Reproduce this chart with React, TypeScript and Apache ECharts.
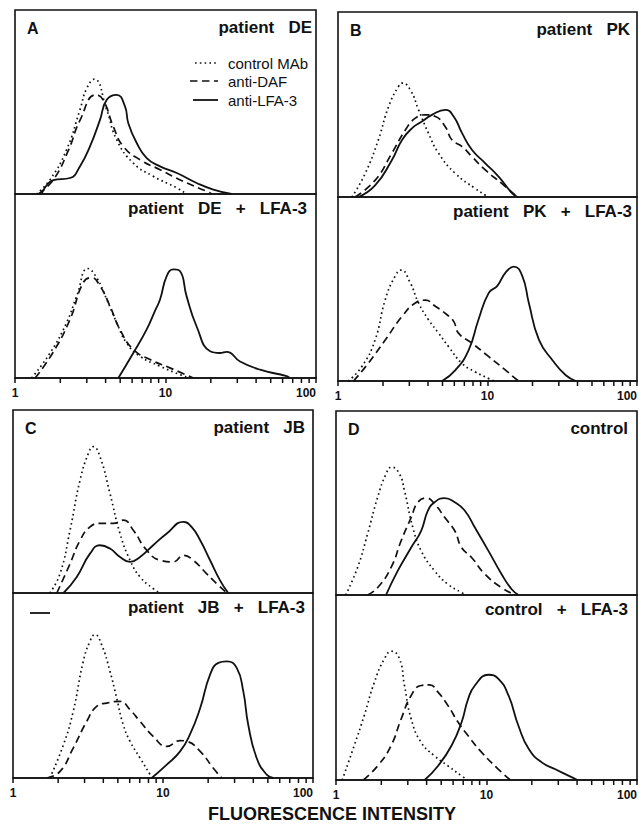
import React, { useEffect, useRef } from "react";
import * as echarts from "echarts";

// ---------- DATA (fluorescence intensity, relative cell number in % of panel height) ----------
const seriesNames = ["control MAb", "anti-DAF", "anti-LFA-3"];
const xMinorTickValues = [2, 3, 4, 5, 6, 7, 8, 9, 20, 30, 40, 50, 60, 70, 80, 90];

const panelTitles = [
  "patient   DE", "patient   DE   +   LFA-3",
  "patient   PK", "patient   PK   +   LFA-3",
  "patient   JB", "patient   JB   +   LFA-3",
  "control", "control   +   LFA-3",
];
const panelLetters = ["A", "B", "C", "D"];

// Panel A, patient DE
const aTopControl = [[1.39,0],[1.71,7.8],[2.2,24],[2.7,45.7],[3.0,57.5],[3.37,62.4],[4.07,45.7],[4.74,29.5],[6.11,16.8],[8.3,9.6],[11.9,3.3],[13.8,0]];
const aTopDAF = [[1.43,0],[1.8,7.8],[2.27,24],[2.7,40],[3.45,53.9],[3.86,51],[4.5,36.7],[5.24,25.9],[6.77,18.6],[9.2,13.2],[13.1,6.9],[18.8,1.4],[20.3,0]];
const aTopLFA = [[1.5,0],[1.8,7.5],[2.32,8.7],[2.7,15],[3.15,25.9],[3.67,40.3],[4.07,51.2],[4.74,53.9],[5.38,47.6],[5.66,38.5],[6.44,27.7],[7.5,19.5],[9.2,15],[11.9,11.4],[16.1,6],[20.8,2.4],[27.5,0]];
const aBotControl = [[1.29,0],[1.71,13.6],[2.2,30],[2.57,44.5],[3.05,59.5],[3.49,54.5],[4.07,42.7],[4.74,30],[5.52,19],[6.77,11.8],[9.2,6.4],[12.5,1.8],[14.5,0]];
const aBotDAF = [[1.36,0],[1.78,13.6],[2.32,31.8],[2.84,51.8],[3.23,54.5],[3.67,50],[4.28,39],[4.98,26.4],[6.11,15.5],[7.9,10],[10.7,5.5],[15.3,0]];
const aBotLFA = [[4.86,0],[6.11,13.6],[7.5,26.4],[8.5,36.4],[9.2,42.7],[10.2,55.5],[11.3,59],[12.5,58],[13.8,44.5],[16.1,28],[19.8,14.5],[23,13.6],[25.5,14.2],[31.3,9],[42.5,4.5],[63.8,1],[66.8,0]];

// Panel B, patient PK
const bTopControl = [[1.24,0],[1.52,12.7],[1.86,30.8],[2.18,48.9],[2.54,59.8],[2.7,61.6],[3.04,58],[3.46,47.1],[4.03,34.4],[4.71,23.6],[6.1,12.7],[8.3,4.5],[9.7,0.9],[10.1,0]];
const bTopDAF = [[1.3,0],[1.77,9],[2.29,23.6],[2.82,36.2],[3.29,42.6],[3.84,44.4],[4.48,43.5],[5.22,38],[5.79,30.8],[6.77,27.2],[7.89,21.7],[9.7,14.5],[12.5,7.2],[15.4,0.9],[15.9,0]];
const bTopLFA = [[1.37,0],[1.77,6.3],[2.29,19.9],[2.68,30.8],[3.12,37.1],[3.64,40.8],[4.25,44.4],[5.22,47.1],[5.94,43.5],[6.77,34.4],[7.89,25.4],[9.7,18.1],[11.9,10.9],[14.7,1.8],[15.9,0]];
const bBotControl = [[1.17,0],[1.44,7.7],[1.77,22.3],[2.07,44.2],[2.41,57],[2.65,60.3],[3.04,53.4],[3.46,42.4],[4.03,33.3],[4.71,26],[5.5,18.6],[6.77,9.5],[8.3,4.9],[10.2,1.3],[11.1,0]];
const bBotDAF = [[1.27,0],[1.59,9.5],[2.07,22.3],[2.68,35.1],[3.29,42.4],[3.84,43.9],[4.48,40.6],[5.36,36],[5.94,32.4],[6.4,26],[7.89,20.5],[10.2,13.2],[13.2,5.9],[15.9,0.4],[16.3,0]];
const bBotLFA = [[4.97,0],[6.1,5.9],[7.48,16.8],[8.7,33.3],[10.2,47.9],[11.6,51.6],[13.2,58.9],[15,62.2],[17.1,57],[18.9,42.4],[22.1,22.3],[27.2,11.3],[33.4,3.1],[39,0]];

// Panel C, patient JB
const cTopControl = [[1.76,0],[2.06,10.6],[2.4,34.3],[2.8,61.7],[3.18,76.3],[3.43,80],[3.8,74.5],[4.43,54.4],[5.17,32.5],[6.03,17.9],[7.03,8.8],[8.6,2.4],[9.55,0]];
const cTopDAF = [[1.96,0],[2.4,16],[2.8,28.8],[3.26,36.1],[3.8,38],[4.66,38],[5.43,39.8],[6.34,34.3],[7.78,23.4],[9.55,17.9],[11.7,17],[13.7,20.6],[15.9,17.9],[19.5,10.6],[22.8,5.1],[26.6,0]];
const cTopLFA = [[2.17,0],[2.66,8.8],[3.26,21.5],[3.8,26.1],[4.43,24.3],[5.17,19.7],[6.03,17],[7.03,19.7],[8.6,26.1],[10.6,32.5],[13.7,38.9],[15.5,36.1],[17.7,28.8],[20.6,17.9],[24,6.9],[27.2,0]];
const cBotControl = [[1.76,0],[2.17,18],[2.52,36],[2.94,63],[3.26,73.9],[3.52,77.5],[3.9,72],[4.43,57.7],[4.91,43.2],[5.43,28.8],[6.03,19.8],[7.03,10.8],[8.2,1.8],[8.4,0]];
const cBotDAF = [[1.68,0],[2.06,3.6],[2.52,16.2],[3.1,30.6],[3.61,38.7],[4.21,40.5],[5.17,41.4],[6.03,36.9],[7.03,30.6],[8.6,22.5],[10.6,17.1],[13,20.2],[14.4,19.8],[17.7,14.4],[21.6,5.4],[24.6,0]];
const cBotLFA = [[8.4,0],[10.6,7.2],[13,14.4],[15.1,23.4],[17.7,37.8],[20.6,55.9],[23.4,62.2],[26.6,63],[31,59.5],[34.3,46.8],[37,28.8],[42.1,10.8],[49.1,1.8],[54.4,0]];

// Panel D, control
const dTopControl = [[1.16,0],[1.39,14.9],[1.62,33.1],[1.89,53.1],[2.15,65.8],[2.34,69.5],[2.64,65.8],[2.85,56.7],[3.24,36.7],[3.68,24],[4.52,13.1],[5.55,5.8],[6.83,1.3],[7.3,0]];
const dTopDAF = [[1.62,0],[1.89,4],[2.32,14.9],[2.71,29.5],[3.16,42.2],[3.5,50.4],[3.98,52.7],[4.52,49.5],[5.27,42.2],[6.15,34.9],[6.83,25.8],[7.96,20.4],[9.77,11.3],[12.6,4],[15.5,0]];
const dTopLFA = [[2.15,0],[2.57,13.1],[3.16,25.8],[3.68,34.9],[4.08,45.8],[4.52,50.4],[5.27,52.7],[6.15,50.4],[7.18,45.8],[8.37,36.7],[10.3,24],[12.6,11.3],[14.7,3.1],[16.3,0]];
const dBotControl = [[1.1,0],[1.32,18.5],[1.54,34.8],[1.8,52.9],[2.1,65.6],[2.34,69.6],[2.64,65.6],[2.85,51.1],[3.16,33],[3.68,20.3],[4.52,13],[5.55,7.6],[6.83,2.2],[7.5,0]];
const dBotDAF = [[1.52,0],[1.89,7.6],[2.32,18.5],[2.71,33],[3.16,45.7],[3.68,51.1],[4.19,51.4],[4.76,47.5],[5.55,40.2],[6.48,31.2],[7.55,23.9],[9.29,14.9],[12,5.8],[14.4,0]];
const dBotLFA = [[3.88,0],[4.76,7.6],[5.85,18.5],[6.83,31.2],[7.55,43.8],[8.37,51.1],[10.3,56.9],[12,54.7],[14,45.7],[16.3,29.3],[19.1,16.7],[23.4,9.4],[28.7,5.8],[35.3,2.2],[40.2,0]];

const subPanelData = [
  [aTopControl, aTopDAF, aTopLFA],
  [aBotControl, aBotDAF, aBotLFA],
  [bTopControl, bTopDAF, bTopLFA],
  [bBotControl, bBotDAF, bBotLFA],
  [cTopControl, cTopDAF, cTopLFA],
  [cBotControl, cBotDAF, cBotLFA],
  [dTopControl, dTopDAF, dTopLFA],
  [dBotControl, dBotDAF, dBotLFA],
];

// ---------- LAYOUT ----------
const INK = "#111";
const FONT = "'Liberation Sans', Arial, Helvetica, sans-serif";
// left, width, top, midline, bottom for each of the four panels
const panelBoxes = [
  { l: 15, w: 301, t: 10, m: 194, b: 378 },
  { l: 338, w: 299, t: 12, m: 197, b: 381 },
  { l: 13, w: 300, t: 410, m: 593, b: 778 },
  { l: 336, w: 301, t: 411, m: 595, b: 780 },
];
// distance of each sub-panel title's right edge from the panel's right border
const titleInset = [4, 9, 7, 5, 8, 8, 9, 9];
const lineStyles = [
  { type: [1.6, 3.2], width: 1.7 },
  { type: [7.5, 4.5], width: 1.7 },
  { type: "solid", width: 1.8 },
];

function buildOption() {
  const grid: any[] = [];
  const xAxis: any[] = [];
  const yAxis: any[] = [];
  const series: any[] = [];
  const graphic: any[] = [];

  panelBoxes.forEach((p, pi) => {
    [0, 1].forEach((half) => {
      const gi = pi * 2 + half;
      const top = half === 0 ? p.t : p.m;
      const height = half === 0 ? p.m - p.t : p.b - p.m;
      const isBottom = half === 1;
      grid.push({
        left: p.l, top, width: p.w, height,
        show: true, borderColor: INK, borderWidth: 1.6,
        backgroundColor: "transparent",
        containLabel: false, outerBoundsMode: "none",
      });
      xAxis.push({
        type: "log", logBase: 10, min: 1, max: 100, gridIndex: gi,
        show: isBottom,
        axisLine: { show: true, onZero: false, lineStyle: { color: INK, width: 1.6 } },
        axisTick: { show: true, inside: false, length: 5, lineStyle: { color: INK, width: 1.5 } },
        minorTick: { show: false },
        splitLine: { show: false },
        axisLabel: {
          show: true, margin: 9, fontSize: 12,
          color: INK, fontFamily: FONT, fontWeight: "bold",
          showMinLabel: true, showMaxLabel: true, hideOverlap: false,
          alignMaxLabel: "right",
          formatter: (v: number) => String(Math.round(v)),
        },
      });
      yAxis.push({ type: "value", min: 0, max: 100, gridIndex: gi, show: false, splitLine: { show: false } });
      subPanelData[gi].forEach((d, si) => {
        series.push({
          type: "line", name: seriesNames[si], xAxisIndex: gi, yAxisIndex: gi,
          data: d, symbol: "none", showSymbol: false, smooth: 0.5,
          silent: true, clip: true,
          lineStyle: { color: INK, width: lineStyles[si].width, type: lineStyles[si].type, cap: "butt", join: "round" },
        });
      });
      if (isBottom) {
        // minor tick marks (2..9, 20..90) hanging below the axis line
        series.push({
          type: "scatter", name: "minor ticks", xAxisIndex: gi, yAxisIndex: gi,
          data: xMinorTickValues.map((v) => [v, 0]),
          symbol: "rect", symbolSize: [1.5, 5], symbolOffset: [0, 2.5],
          itemStyle: { color: INK, opacity: 1 }, silent: true, clip: false, z: 10,
          emphasis: { disabled: true },
        });
      }
      // sub-panel title
      graphic.push({
        type: "text", silent: true,
        style: {
          text: panelTitles[gi], x: p.l + p.w - titleInset[gi], y: top + (half === 0 ? 17 : 14),
          align: "right", textAlign: "right", verticalAlign: "middle", textVerticalAlign: "middle",
          font: `bold 17px ${FONT}`, fill: INK,
        },
      });
    });
    graphic.push({
      type: "text", silent: true,
      style: {
        text: panelLetters[pi], x: p.l + 12, y: p.t + 18,
        align: "left", textAlign: "left", verticalAlign: "middle", textVerticalAlign: "middle",
        font: `bold 16px ${FONT}`, fill: INK,
      },
    });
  });

  // legend in panel A
  const legY = [63, 81, 100];
  const legX0 = [195, 190, 193];
  seriesNames.forEach((n, i) => {
    graphic.push({
      type: "line", silent: true,
      shape: { x1: legX0[i], y1: legY[i], x2: 218, y2: legY[i] },
      style: { stroke: INK, lineWidth: lineStyles[i].width, lineDash: Array.isArray(lineStyles[i].type) ? lineStyles[i].type : null },
    });
    graphic.push({
      type: "text", silent: true,
      style: {
        text: n, x: 228, y: legY[i],
        align: "left", textAlign: "left", verticalAlign: "middle", textVerticalAlign: "middle",
        font: `15px ${FONT}`, fill: INK,
      },
    });
  });

  // stray mark in panel C lower half
  graphic.push({
    type: "line", silent: true,
    shape: { x1: 30, y1: 613, x2: 50, y2: 613 },
    style: { stroke: INK, lineWidth: 1.8 },
  });

  // common x-axis title
  graphic.push({
    type: "text", silent: true,
    style: {
      text: "FLUORESCENCE INTENSITY", x: 332, y: 814,
      align: "center", textAlign: "center", verticalAlign: "middle", textVerticalAlign: "middle",
      font: `bold 18px ${FONT}`, fill: INK,
    },
  });

  return {
    animation: false,
    backgroundColor: "#fff",
    grid, xAxis, yAxis, series, graphic,
    tooltip: { show: false },
  };
}

export default function App() {
  const ref = useRef<HTMLDivElement>(null);
  useEffect(() => {
    if (!ref.current) return;
    const chart = echarts.init(ref.current, null, { renderer: "svg" });
    chart.setOption(buildOption() as any);
    return () => chart.dispose();
  }, []);
  return (
    <div
      ref={ref}
      style={{ position: "absolute", left: 0, top: 0, width: 639, height: 826, background: "#fff" }}
    />
  );
}
